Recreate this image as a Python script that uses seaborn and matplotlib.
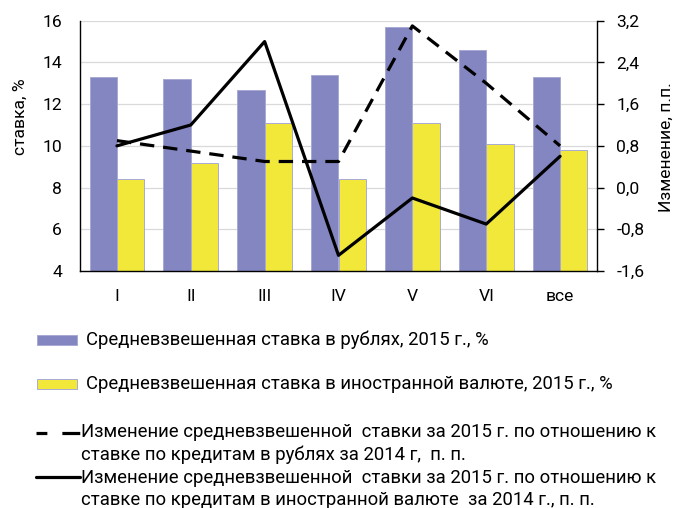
import matplotlib
matplotlib.use("Agg")
import matplotlib.pyplot as plt
import seaborn as sns
import pandas as pd
from matplotlib.patches import Rectangle
from matplotlib.lines import Line2D

# ---- data ----
categories = ["I", "II", "III", "IV", "V", "VI", "все"]
rate_rub = [13.3, 13.2, 12.7, 13.4, 15.7, 14.6, 13.3]
rate_fx = [8.4, 9.2, 11.1, 8.4, 11.1, 10.1, 9.8]
chg_rub = [0.9, 0.7, 0.5, 0.5, 3.1, 2.0, 0.8]
chg_fx = [0.8, 1.2, 2.8, -1.3, -0.2, -0.7, 0.6]
left_ticks = [4, 6, 8, 10, 12, 14, 16]
right_ticks = [-1.6, -0.8, 0.0, 0.8, 1.6, 2.4, 3.2]
right_tick_labels = ["-1,6", "-0,8", "0,0", "0,8", "1,6", "2,4", "3,2"]
label_rub = "Средневзвешенная ставка в рублях, 2015 г., %"
label_fx = "Средневзвешенная ставка в иностранной валюте, 2015 г., %"
label_chg_rub = ("Изменение средневзвешенной  ставки за 2015 г. по отношению к\n"
                 "ставке по кредитам в рублях за 2014 г,  п. п.")
label_chg_fx = ("Изменение средневзвешенной  ставки за 2015 г. по отношению к\n"
                "ставке по кредитам в иностранной валюте  за 2014 г., п. п.")

BLUE = "#8386C1"
YELLOW = "#F1E83A"

sns.set_theme(style="white")
plt.rcParams["font.family"] = ["Roboto", "DejaVu Sans"]
FS_TICK = 12.6
FS_LEG = 13.3

W, H = 674, 508
fig = plt.figure(figsize=(W / 100, H / 100), dpi=100)

def fx(px):
    return px / W

def fy(py):
    return 1 - py / H

L, R, T, B = 80, 597, 20.7, 271
ax = fig.add_axes([fx(L), fy(B), fx(R) - fx(L), fy(T) - fy(B)])

df = pd.DataFrame({
    "cat": categories * 2,
    "val": rate_rub + rate_fx,
    "series": [label_rub] * len(categories) + [label_fx] * len(categories),
})
sns.barplot(data=df, x="cat", y="val", hue="series", order=categories,
            palette=[BLUE, YELLOW], saturation=1, width=0.74, gap=0,
            edgecolor="#A9AAD3", linewidth=0.7, legend=False, ax=ax, zorder=2)

ax.set_ylim(4, 16)
ax.set_yticks(left_ticks)
ax.set_xlim(-0.5, len(categories) - 0.5)
ax.set_xlabel("")
ax.set_ylabel("")
ax.yaxis.grid(True, color="#D9D9D9", linewidth=0.9, zorder=0)
ax.set_axisbelow(True)
ax.tick_params(axis="y", length=0, labelsize=FS_TICK, pad=13, colors="#000000")
ax.tick_params(axis="x", length=0, labelsize=FS_TICK, pad=13, colors="#000000")
for s in ["left", "bottom"]:
    ax.spines[s].set_color("#000000")
    ax.spines[s].set_linewidth(1.0)
ax.spines["top"].set_visible(False)
ax.spines["right"].set_visible(False)

ax2 = ax.twinx()
sns.pointplot(x=categories, y=chg_rub, color="black", markers="",
              linestyles="-", ax=ax2, linewidth=2.3, errorbar=None)
sns.pointplot(x=categories, y=chg_fx, color="black", markers="",
              linestyles="-", ax=ax2, linewidth=2.3, errorbar=None)
ax2.lines[0].set_dashes((4.5, 2.8))
ax2.set_xlim(-0.5, len(categories) - 0.5)
ax2.set_ylim(-1.6, 3.2)
ax2.set_yticks(right_ticks)
ax2.set_yticklabels(right_tick_labels)
ax2.set_ylabel("")
ax2.tick_params(axis="y", length=5, width=1, color="#000000", labelsize=FS_TICK,
                pad=9, colors="#000000")
for s in ["top", "left", "bottom"]:
    ax2.spines[s].set_visible(False)
ax2.spines["right"].set_color("#000000")
ax2.spines["right"].set_linewidth(1.0)
ax2.grid(False)

# axis titles
fig.text(fx(20), fy(117), "ставка, %", rotation=90, ha="center", va="center",
         fontsize=FS_TICK, color="#000000")
fig.text(fx(666), fy(147), "Изменение, п.п.", rotation=90, ha="center",
         va="center", fontsize=FS_TICK, color="#000000")

# legend (manual layout)
tf = fig.transFigure
for yc, col in [(340, BLUE), (384, YELLOW)]:
    fig.add_artist(Rectangle((fx(37), fy(yc + 5)), fx(77) - fx(37), fy(yc - 5) - fy(yc + 5),
                             facecolor=col, edgecolor="#A9AAD3", linewidth=0.7,
                             transform=tf))
fig.text(fx(86), fy(340), label_rub, ha="left", va="center", fontsize=FS_LEG, color="#000000")
fig.text(fx(86), fy(384), label_fx, ha="left", va="center", fontsize=FS_LEG, color="#000000")

dl = Line2D([fx(36), fx(80)], [fy(433), fy(433)], color="black", linewidth=2.3,
            transform=tf)
dl.set_dashes((3.4, 4.7, 5.6, 1.0))
fig.add_artist(dl)
fig.add_artist(Line2D([fx(36), fx(80)], [fy(477), fy(477)], color="black",
                      linewidth=2.3, transform=tf))
for lbl, ys in [(label_chg_rub, (432, 455)), (label_chg_fx, (478, 500))]:
    for line, yc in zip(lbl.split("\n"), ys):
        fig.text(fx(81), fy(yc), line, ha="left", va="center", fontsize=FS_LEG,
                 color="#000000")

fig.savefig("out.png", dpi=100)
